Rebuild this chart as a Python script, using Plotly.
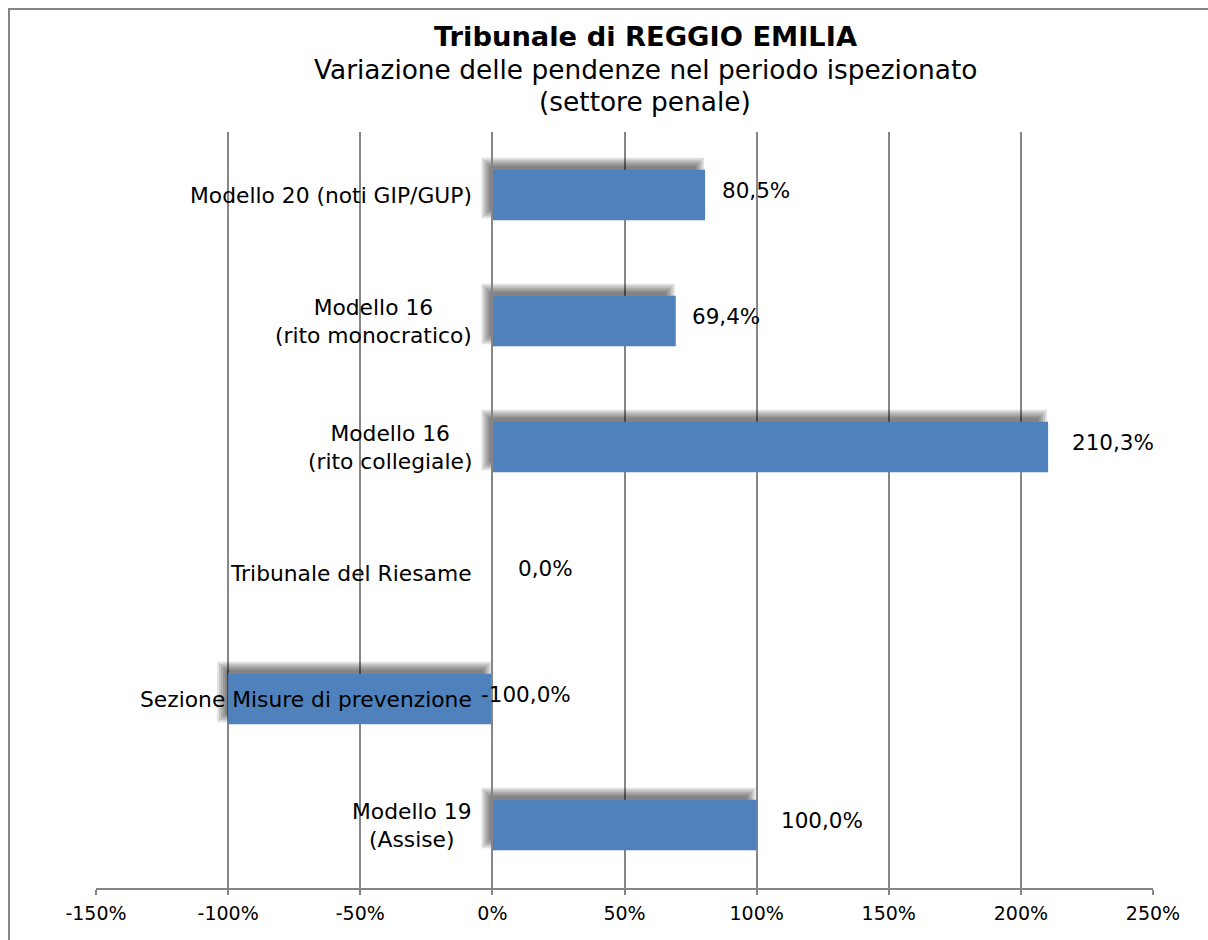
import plotly.graph_objects as go

# dati (dall'alto verso il basso)
categorie = [
    "Modello 20 (noti GIP/GUP)",
    "Modello 16<br>(rito monocratico)",
    "Modello 16<br>(rito collegiale)",
    "Tribunale del Riesame",
    "Sezione Misure di prevenzione",
    "Modello 19<br>(Assise)",
]
variazioni = [80.5, 69.4, 210.3, 0.0, -100.0, 100.0]
tick_valori = [-150, -100, -50, 0, 50, 100, 150, 200, 250]
tick_testi = ["-150%", "-100%", "-50%", "0%", "50%", "100%", "150%", "200%", "250%"]

titolo = "Tribunale di REGGIO EMILIA"
sottotitolo = ["Variazione delle pendenze nel periodo ispezionato", "(settore penale)"]

# stile
FONT = "DejaVu Sans"
BLU = "#4F81BD"
GRIGIO = "#868686"
W, H = 1208, 940
# area del grafico in pixel: x 96..1153, y 132..888
X0, X1, Y0, Y1 = 96, 1153, 132, 888
M = {"l": X0, "r": W - X1, "t": Y0, "b": H - Y1}
PX_X = (X1 - X0) / 400.0               # pixel per punto %
PX_Y = (Y1 - Y0) / len(categorie)      # pixel per categoria
LARGH = 0.4
label_shift = [51, 50, 65, 53, 34, 65]


def etichetta(v):
    return f"{v:.1f}".replace(".", ",") + "%"


def xpaper(xpx):
    return (xpx - X0) / (X1 - X0)


def ypaper(ypx):
    return (Y1 - ypx) / (Y1 - Y0)


fig = go.Figure()

# ombra sfumata dietro le barre (più strati trasparenti)
dx = -6 / PX_X
dy = 7 / PX_Y
for e in [-3, -1, 1, 3, 5]:
    ex = e / PX_X
    ey = e / PX_Y
    basi = [min(v, 0) + dx - ex for v in variazioni]
    lung = [abs(v) + 2 * ex if v != 0 else 0 for v in variazioni]
    w = LARGH + 2 * ey
    fig.add_trace(go.Bar(
        y=categorie, x=lung, base=basi, orientation="h",
        width=w, offset=-w / 2 + dy,
        marker=dict(color="rgba(0,0,0,0.12)", line=dict(width=0)),
        hoverinfo="skip", showlegend=False,
    ))

fig.add_trace(go.Bar(
    y=categorie, x=variazioni, orientation="h",
    width=LARGH, offset=-LARGH / 2,
    marker=dict(color=BLU, line=dict(width=0)),
    showlegend=False,
))

# etichette dati
for cat, v, s in zip(categorie, variazioni, label_shift):
    fig.add_annotation(
        x=max(v, 0), y=cat, xref="x", yref="y", text=etichetta(v),
        showarrow=False, xanchor="center", xshift=s, yshift=5,
        font=dict(family=FONT, size=21.5, color="black"),
    )

# etichette categorie accanto all'asse dello zero
for cat in categorie:
    fig.add_annotation(
        x=0, y=cat, xref="x", yref="y", text=cat,
        showarrow=False, xanchor="right", xshift=-18, align="center",
        font=dict(family=FONT, size=21.8, color="black"),
    )

# titolo
xc = xpaper(645)
fig.add_annotation(x=xc, y=ypaper(36), xref="paper", yref="paper", text=f"<b>{titolo}</b>",
                   showarrow=False, yanchor="middle", font=dict(family=FONT, size=27.3, color="black"))
for testo, ypx in zip(sottotitolo, [69, 101]):
    fig.add_annotation(x=xc, y=ypaper(ypx), xref="paper", yref="paper", text=testo,
                       showarrow=False, yanchor="middle", font=dict(family=FONT, size=26.4, color="black"))

# bordo del grafico (solo lato superiore e sinistro sono visibili)
fig.add_shape(type="line", xref="paper", yref="paper",
              x0=xpaper(8), x1=xpaper(1300), y0=ypaper(9), y1=ypaper(9),
              line=dict(color=GRIGIO, width=2), layer="below")
fig.add_shape(type="line", xref="paper", yref="paper",
              x0=xpaper(9), x1=xpaper(9), y0=ypaper(8), y1=ypaper(1000),
              line=dict(color=GRIGIO, width=2), layer="below")

fig.update_layout(
    width=W, height=H,
    margin=M,
    paper_bgcolor="white", plot_bgcolor="white",
    barmode="overlay",
    font=dict(family=FONT, size=18, color="black"),
    xaxis=dict(
        range=[-150, 250], tickvals=tick_valori, ticktext=tick_testi,
        showgrid=True, gridcolor=GRIGIO, gridwidth=1.5,
        zeroline=False,
        showline=True, linecolor=GRIGIO, linewidth=1.5,
        ticks="outside", ticklen=5, tickcolor=GRIGIO, tickwidth=1.5,
        ticklabelstandoff=2, automargin=False,
        tickfont=dict(family=FONT, size=19, color="black"),
        fixedrange=True,
    ),
    yaxis=dict(
        categoryorder="array", categoryarray=list(reversed(categorie)),
        range=[-0.5, len(categorie) - 0.5],
        showticklabels=False, showgrid=False, zeroline=False,
        anchor="free", position=150 / 400, automargin=False,
        showline=True, linecolor=GRIGIO, linewidth=1.5,
        layer="above traces",
        fixedrange=True,
    ),
)

# niente margine del body né barre di scorrimento: la figura occupa tutta la finestra
fig.write_html(
    "out.html",
    config={"displayModeBar": False},
    post_script="document.body.style.margin='0';document.body.style.overflow='hidden';",
)
